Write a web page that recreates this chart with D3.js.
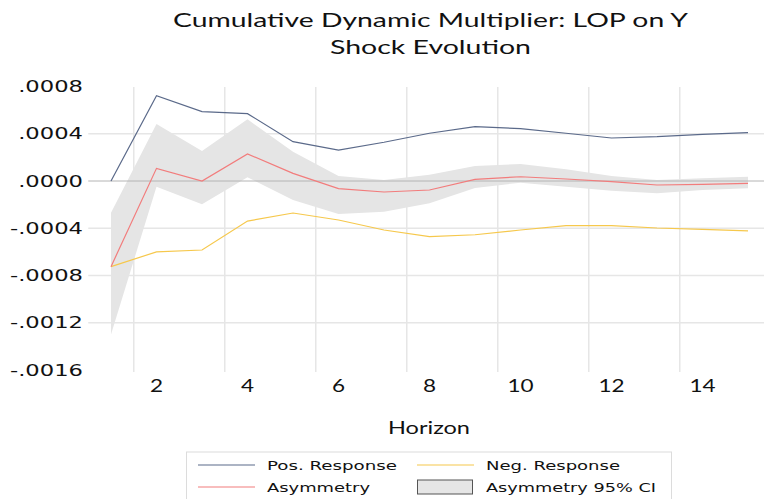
<!DOCTYPE html>
<html><head><meta charset="utf-8">
<script src="https://cdn.jsdelivr.net/npm/d3@7"></script>
<style>html,body{margin:0;padding:0;background:#fff;}svg{display:block;}</style>
</head><body>
<svg id="chart" width="764" height="499"></svg>
<script>
const horizon = [1,2,3,4,5,6,7,8,9,10,11,12,13,14,15];
const posResponse = [0, 0.000722, 0.000587, 0.000570, 0.000333, 0.000262, 0.000328, 0.000404, 0.000460, 0.000443, 0.000404, 0.000364, 0.000375, 0.000395, 0.000409];
const negResponse = [-0.000725, -0.000600, -0.000584, -0.000339, -0.000271, -0.000330, -0.000415, -0.000471, -0.000455, -0.000415, -0.000378, -0.000378, -0.000398, -0.000409, -0.000423];
const asymmetry = [-0.000725, 0.000107, 0.000000, 0.000229, 0.000065, -0.000065, -0.000093, -0.000076, 0.000014, 0.000036, 0.000017, -0.000006, -0.000034, -0.000028, -0.000020];
const ciUpper = [-0.000268, 0.000483, 0.000254, 0.000522, 0.000248, 0.000042, 0.000008, 0.000053, 0.000127, 0.000144, 0.000099, 0.000042, 0.000008, 0.000023, 0.000036];
const ciLower = [-0.001300, -0.000048, -0.000197, 0.000031, -0.000161, -0.000279, -0.000260, -0.000189, -0.000059, -0.000014, -0.000048, -0.000082, -0.000104, -0.000076, -0.000062];
const yTicks = [0.0008, 0.0004, 0, -0.0004, -0.0008, -0.0012, -0.0016];
const yTickLabels = [".0008", ".0004", ".0000", "-.0004", "-.0008", "-.0012", "-.0016"];
const xTicks = [2,4,6,8,10,12,14];
const xGrid = [1.5,3.5,5.5,7.5,9.5,11.5,13.5];
const titleLines = ["Cumulative Dynamic Multiplier: LOP on Y", "Shock Evolution"];
const xTitle = "Horizon";
const legendItems = [
  {label: "Pos. Response", type: "line", color: "#5b6a8a"},
  {label: "Neg. Response", type: "line", color: "#f6c84c"},
  {label: "Asymmetry", type: "line", color: "#f27c7c"},
  {label: "Asymmetry 95% CI", type: "box", color: "#e6e6e6"}
];

const svg = d3.select("#chart");
const x = d3.scaleLinear().domain([0.5, 15.5]).range([88.25, 770.75]);
const y = d3.scaleLinear().domain([-0.0016, 0.0008]).range([370, 86.5]);
const plotRight = 764;

function fitText(sel, width) {
  sel.each(function(){
    this.setAttribute("textLength", width);
    this.setAttribute("lengthAdjust", "spacingAndGlyphs");
  });
}

// gridlines horizontal
svg.append("g").selectAll("line").data(yTicks.filter(d => d !== 0 && d !== 0.0008 && d !== -0.0016)).join("line")
  .attr("x1", x(0.5)).attr("x2", plotRight)
  .attr("y1", d => y(d)).attr("y2", d => y(d))
  .attr("stroke", "#e6e6e6").attr("stroke-width", 1.5);
// vertical gridlines
svg.append("g").selectAll("line").data(xGrid).join("line")
  .attr("x1", d => x(d)).attr("x2", d => x(d))
  .attr("y1", 87).attr("y2", 372)
  .attr("stroke", "#e6e6e6").attr("stroke-width", 1.5);

// CI band
const area = d3.area().x((d,i) => x(horizon[i])).y0((d,i) => y(ciLower[i])).y1((d,i) => y(ciUpper[i]));
svg.append("path").datum(horizon).attr("d", area).attr("fill", "#e5e5e5").attr("stroke", "none");

// zero line
svg.append("line").attr("x1", x(0.5)).attr("x2", plotRight).attr("y1", y(0)).attr("y2", y(0))
  .attr("stroke", "#b4b4b4").attr("stroke-width", 1);

const line = vals => d3.line().x((d,i) => x(horizon[i])).y((d,i) => y(vals[i]))(vals);
svg.append("path").attr("d", line(negResponse)).attr("fill", "none").attr("stroke", "#f6c84c").attr("stroke-width", 1.2);
svg.append("path").attr("d", line(asymmetry)).attr("fill", "none").attr("stroke", "#f27c7c").attr("stroke-width", 1.2);
svg.append("path").attr("d", line(posResponse)).attr("fill", "none").attr("stroke", "#5b6a8a").attr("stroke-width", 1.2);

// y tick labels
const yl = svg.append("g").selectAll("text").data(yTicks).join("text")
  .attr("x", 83).attr("y", d => y(d) + 5.5)
  .attr("text-anchor", "end")
  .attr("font-family", "DejaVu Sans").attr("font-size", 15).attr("fill", "#111")
  .text((d,i) => yTickLabels[i]);
yl.each(function(){ const w = this.getComputedTextLength(); this.setAttribute("textLength", w*1.51); this.setAttribute("lengthAdjust","spacingAndGlyphs"); });

// x tick labels
const xl = svg.append("g").selectAll("text").data(xTicks).join("text")
  .attr("x", d => x(d)).attr("y", 392)
  .attr("text-anchor", "middle")
  .attr("font-family", "Lato").attr("font-size", 18).attr("fill", "#111")
  .text(d => d);
xl.each(function(){ const w = this.getComputedTextLength(); this.setAttribute("textLength", w*1.25); this.setAttribute("lengthAdjust","spacingAndGlyphs"); });

// x title
svg.append("text").attr("x", 429).attr("y", 434).attr("text-anchor", "middle")
  .attr("font-family", "Lato").attr("font-size", 18).attr("fill", "#111")
  .text(xTitle).call(fitText, 82);

// title
svg.append("text").attr("x", 430.5).attr("y", 27).attr("text-anchor", "middle")
  .attr("font-family", "Lato").attr("font-size", 19).attr("fill", "#111")
  .text(titleLines[0]).call(fitText, 515);
svg.append("text").attr("x", 430.5).attr("y", 54).attr("text-anchor", "middle")
  .attr("font-family", "Lato").attr("font-size", 19).attr("fill", "#111")
  .text(titleLines[1]).call(fitText, 201);

// legend
svg.append("rect").attr("x", 186.5).attr("y", 452).attr("width", 485).attr("height", 60)
  .attr("fill", "#fff").attr("stroke", "#dcdcdc").attr("stroke-width", 1);
const legPos = [
  {lx: 198, tx: 267, cy: 465, w: 130},
  {lx: 417, tx: 486, cy: 465, w: 134},
  {lx: 198, tx: 267, cy: 487, w: 103},
  {lx: 417, tx: 486, cy: 487, w: 170}
];
legendItems.forEach((it, i) => {
  const p = legPos[i];
  if (it.type === "line") {
    svg.append("line").attr("x1", p.lx).attr("x2", p.lx + 57).attr("y1", p.cy).attr("y2", p.cy)
      .attr("stroke", it.color).attr("stroke-width", 1.2);
  } else {
    svg.append("rect").attr("x", p.lx + 0.5).attr("y", p.cy - 7).attr("width", 55).attr("height", 14)
      .attr("fill", it.color).attr("stroke", "#555").attr("stroke-width", 1);
  }
  svg.append("text").attr("x", p.tx).attr("y", p.cy + 4.7)
    .attr("font-family", "DejaVu Sans").attr("font-size", 13).attr("fill", "#111")
    .text(it.label).call(fitText, p.w);
});
</script>
</body></html>
